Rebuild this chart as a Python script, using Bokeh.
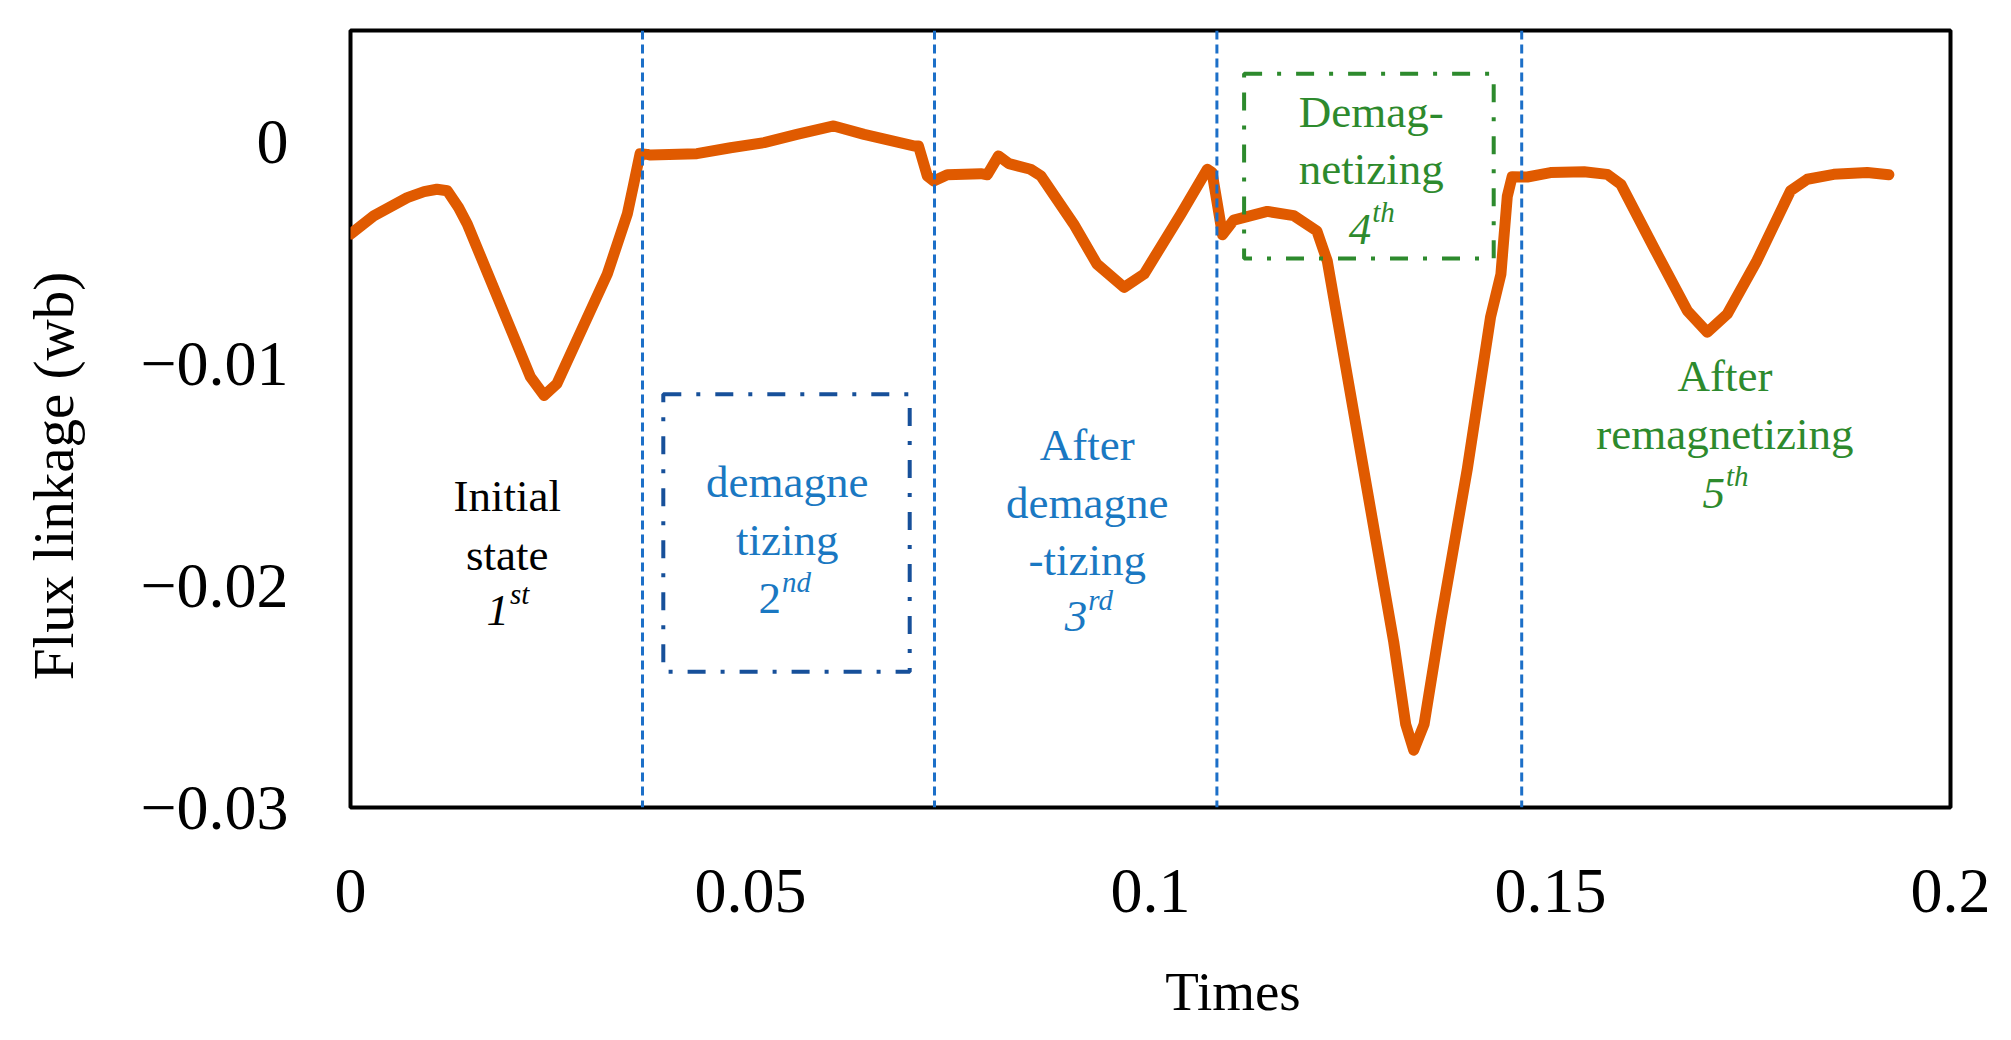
from bokeh.plotting import figure
from bokeh.models import ColumnDataSource, Range1d, FixedTicker, Span, BoxAnnotation
from bokeh.core.properties import value
from bokeh.embed import file_html
from bokeh.resources import INLINE

# flux linkage curve
times = [0.0, 0.0029, 0.0071, 0.0092, 0.0108, 0.0121, 0.0135, 0.0146, 0.0225, 0.0242,
         0.0258, 0.0321, 0.0346, 0.0354, 0.0362, 0.0371, 0.0375, 0.0433, 0.0475, 0.0517,
         0.0558, 0.0604, 0.0642, 0.0704, 0.0710, 0.0721, 0.0729, 0.0746, 0.0788, 0.0796,
         0.0810, 0.0823, 0.0850, 0.0863, 0.0904, 0.0933, 0.0967, 0.0992, 0.1038, 0.1071,
         0.1077, 0.1090, 0.1104, 0.1146, 0.1179, 0.1208, 0.1221, 0.1238, 0.1271, 0.1304,
         0.1319, 0.1329, 0.1342, 0.1363, 0.1396, 0.1425, 0.1438, 0.1446, 0.1452, 0.1471,
         0.1500, 0.1542, 0.1571, 0.1588, 0.1629, 0.1671, 0.1696, 0.1721, 0.1758, 0.1800,
         0.1821, 0.1854, 0.1896, 0.1923]
flux = [-0.00417, -0.00335, -0.00253, -0.00226, -0.00215, -0.00222, -0.00297, -0.00372, -0.01061, -0.01144,
        -0.01091, -0.00597, -0.00327, -0.00192, -0.00055, -0.00058, -0.00061, -0.00055, -0.00028, -0.00005,
        0.00032, 0.00070, 0.00032, -0.00020, -0.00020, -0.00155, -0.00178, -0.00150, -0.00145, -0.00150,
        -0.00065, -0.00100, -0.00125, -0.00155, -0.00372, -0.00552, -0.00657, -0.00597, -0.00327, -0.00125,
        -0.00140, -0.00420, -0.00354, -0.00315, -0.00334, -0.00403, -0.00539, -0.00890, -0.01572, -0.02254,
        -0.02625, -0.02742, -0.02625, -0.02157, -0.01475, -0.00792, -0.00598, -0.00247, -0.00159, -0.00160,
        -0.00140, -0.00136, -0.00148, -0.00193, -0.00477, -0.00762, -0.00859, -0.00777, -0.00537, -0.00222,
        -0.00170, -0.00148, -0.00140, -0.00150]

# stage boundaries (dashed verticals)
boundaries = [0.0365, 0.0730, 0.1083, 0.1464]

x_ticks = [0, 0.05, 0.1, 0.15, 0.2]
x_labels = ["0", "0.05", "0.1", "0.15", "0.2"]
y_ticks = [0, -0.01, -0.02, -0.03]
y_labels = ["0", "\u22120.01", "\u22120.02", "\u22120.03"]

BLACK = "#000000"
BLUE = "#1A78C2"
GREEN = "#2D8A2D"

# stage notes, one entry per text line
note_x = [0.0196, 0.0196,
          0.0546, 0.0546,
          0.0921, 0.0921, 0.0921,
          0.1276, 0.1276,
          0.1718, 0.1718]
note_y = [-0.01597, -0.01862,
          -0.01534, -0.01795,
          -0.01367, -0.01628, -0.01884,
          0.00135, -0.00123,
          -0.01057, -0.01318]
note_text = ["Initial", "state",
             "demagne", "tizing",
             "After", "demagne", "-tizing",
             "Demag-", "netizing",
             "After", "remagnetizing"]
note_color = [BLACK, BLACK, BLUE, BLUE, BLUE, BLUE, BLUE, GREEN, GREEN, GREEN, GREEN]

# ordinal line of each note
ord_x = [0.0198, 0.0538, 0.0921, 0.1276, 0.1718]
ord_y = [-0.02114, -0.02060, -0.02141, -0.00395, -0.01585]
ord_num = ["1", "2", "3", "4", "5"]
ord_suf = ["st", "nd", "rd", "th", "th"]
ord_color = [BLACK, BLUE, BLUE, GREEN, GREEN]
ord_style = ["italic", "normal", "italic", "italic", "italic"]

FONT = "Liberation Serif"
NBSP = "\u00a0"

p = figure(width=1995, height=1024, output_backend="svg", toolbar_location=None,
           x_range=Range1d(0, 0.2), y_range=Range1d(-0.03, 0.005),
           min_border_left=350, min_border_right=45, min_border_top=30, min_border_bottom=217)
p.grid.visible = False
p.outline_line_color = "black"
p.outline_line_width = 4
p.background_fill_color = "white"

for ax in (p.xaxis, p.yaxis):
    ax.axis_line_color = None
    ax.major_tick_line_color = None
    ax.minor_tick_line_color = None
    ax.major_tick_out = 0
    ax.major_tick_in = 0
    ax.major_label_text_font = FONT
    ax.major_label_text_font_size = "64px"
    ax.major_label_text_color = "black"
    ax.axis_label_text_font = FONT
    ax.axis_label_text_font_style = "normal"
    ax.axis_label_text_color = "black"

p.xaxis.ticker = FixedTicker(ticks=x_ticks)
p.xaxis.major_label_overrides = dict(zip(x_ticks, x_labels))
p.xaxis.major_label_standoff = 62
p.yaxis.ticker = FixedTicker(ticks=y_ticks)
p.yaxis.major_label_overrides = dict(zip(y_ticks, y_labels))
p.yaxis.major_label_standoff = 62

# the original titles sit off-centre; non-breaking spaces push them over
p.xaxis.axis_label = NBSP * 12 + "Times"
p.xaxis.axis_label_text_font_size = "55px"
p.xaxis.axis_label_standoff = 46
p.yaxis.axis_label = "Flux linkage (wb)" + NBSP * 8
p.yaxis.axis_label_text_font_size = "57px"
p.yaxis.axis_label_standoff = 52

for b in boundaries:
    p.add_layout(Span(location=b, dimension="height", line_color="#1C6FC8",
                      line_width=3, line_dash="9 5"))

p.add_layout(BoxAnnotation(left=0.0391, right=0.0699, top=-0.01139, bottom=-0.02389,
                           fill_alpha=0, line_color="#17509A", line_alpha=1, line_width=4,
                           line_dash="18 15 4 15"))
p.add_layout(BoxAnnotation(left=0.1117, right=0.1429, top=0.00305, bottom=-0.00527,
                           fill_alpha=0, line_color=GREEN, line_alpha=1, line_width=4,
                           line_dash="18 15 4 15"))

src = ColumnDataSource(dict(t=times, f=flux))
p.line("t", "f", source=src, line_color="#E05A00", line_width=11,
       line_join="round", line_cap="round")

notes = ColumnDataSource(dict(x=note_x, y=note_y, text=note_text, color=note_color))
p.text("x", "y", text="text", source=notes, text_color="color", text_font=value(FONT),
       text_font_size=value("45px"), text_align="center", text_baseline="alphabetic")

ords = ColumnDataSource(dict(x=ord_x, y=ord_y, num=ord_num, suf=ord_suf,
                             color=ord_color, style=ord_style))
p.text("x", "y", text="num", source=ords, text_color="color", text_font=value(FONT),
       text_font_size=value("45px"), text_font_style="style", text_align="right",
       text_baseline="alphabetic")
p.text("x", "y", text="suf", source=ords, text_color="color", text_font=value(FONT),
       text_font_size=value("29px"), text_font_style=value("italic"), text_align="left",
       text_baseline="alphabetic", x_offset=1, y_offset=-17)

open("out.html", "w").write(file_html(p, INLINE))
